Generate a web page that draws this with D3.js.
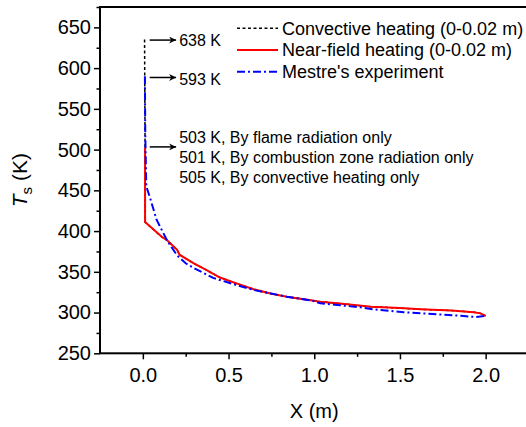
<!DOCTYPE html>
<html>
<head>
<meta charset="utf-8">
<script src="https://cdn.jsdelivr.net/npm/d3@7"></script>
<style>
  body { margin: 0; background: #fff; }
  svg { display: block; font-family: "Liberation Sans", Arial, sans-serif; }
</style>
</head>
<body>
<script>
// near-field heating (red)
var nearX = [0.013, 0.013, 0.11, 0.14, 0.2, 0.214, 0.3, 0.364, 0.45, 0.55, 0.646, 0.75, 0.84, 0.95, 1.035, 1.15, 1.33, 1.5, 1.62, 1.8, 1.93, 1.97, 2.0];
var nearY = [503, 411, 393, 389, 377, 371, 360, 353, 343, 335.5, 328.6, 323, 319.5, 316, 313.4, 311, 307.2, 305.5, 304, 302.5, 300.5, 299, 296];
// convective heating (black dashed), same as red below the peak
var convX = [0.01, 0.013].concat(nearX.slice(1));
var convY = [635, 503].concat(nearY.slice(1));
// Mestre's experiment (blue dash-dot)
var mesX = [0.012, 0.014, 0.02, 0.043, 0.08, 0.14, 0.2, 0.25, 0.3, 0.41, 0.53, 0.646, 0.84, 0.996, 1.035, 1.133, 1.27, 1.346, 1.521, 1.716, 1.872, 1.945, 2.0];
var mesY = [590, 520, 455, 440, 414, 389, 370, 360.5, 354.4, 342.5, 334.7, 327.7, 319.5, 314.2, 311.4, 309.3, 306.5, 304, 300.4, 297.9, 295.8, 294.4, 296];

var xTicks = [0.0, 0.5, 1.0, 1.5, 2.0];
var xMinor = [0.25, 0.75, 1.25, 1.75, 2.25];
var yTicks = [250, 300, 350, 400, 450, 500, 550, 600, 650];
var yMinor = [275, 325, 375, 425, 475, 525, 575, 625, 675];

var legendNames = ["Convective heating (0-0.02 m)", "Near-field heating (0-0.02 m)", "Mestre's experiment"];

// arrow annotations: level of the arrow and text lines next to it
var arrowY = [634.4, 588.5, 503.3];
var arrowX0 = 0.04, arrowX1 = 0.2;
var noteText = ["638 K", "593 K", "503 K, By flame radiation only",
  "501 K, By combustion zone radiation only", "505 K, By convective heating only"];
var noteY = [634.4, 586, 515, 490.5, 466];

var width = 526, height = 427;
var svg = d3.select("body").append("svg")
    .attr("width", width)
    .attr("height", height);

var x = d3.scaleLinear().domain([-0.25, 2.25]).range([100, 528.5]);
var y = d3.scaleLinear().domain([250, 675]).range([353.3, 7]);

// frame
svg.append("rect")
    .attr("x", x(-0.25)).attr("y", y(675))
    .attr("width", x(2.25) - x(-0.25)).attr("height", y(250) - y(675))
    .attr("fill", "none").attr("stroke", "#000").attr("stroke-width", 2);

// axes
var xAxis = svg.append("g")
    .attr("transform", "translate(0," + y(250) + ")")
    .call(d3.axisBottom(x).tickValues(xTicks).tickFormat(d3.format(".1f")).tickSize(6).tickSizeOuter(0));
svg.append("g")
    .attr("transform", "translate(0," + y(250) + ")")
    .call(d3.axisBottom(x).tickValues(xMinor).tickFormat("").tickSize(3.5).tickSizeOuter(0));
var yAxis = svg.append("g")
    .attr("transform", "translate(" + x(-0.25) + ",0)")
    .call(d3.axisLeft(y).tickValues(yTicks).tickSize(6).tickSizeOuter(0));
svg.append("g")
    .attr("transform", "translate(" + x(-0.25) + ",0)")
    .call(d3.axisLeft(y).tickValues(yMinor).tickFormat("").tickSize(3.5).tickSizeOuter(0));

svg.selectAll(".domain").remove();
svg.selectAll(".tick line").attr("stroke", "#000").attr("stroke-width", 1.5);
xAxis.selectAll("text").attr("font-size", 20).attr("fill", "#000").attr("dy", "1.0em");
yAxis.selectAll("text").attr("font-size", 20).attr("fill", "#000").attr("x", -9);

// axis titles
svg.append("text")
    .attr("x", x(1.0)).attr("y", 418)
    .attr("text-anchor", "middle").attr("font-size", 20)
    .text("X (m)");
var yt = svg.append("text")
    .attr("transform", "translate(27," + (y(250) + y(675)) / 2 + ") rotate(-90)")
    .attr("text-anchor", "middle").attr("font-size", 21);
yt.append("tspan").attr("font-style", "italic").text("T");
yt.append("tspan").attr("font-size", 15).attr("dy", 5).text("s");
yt.append("tspan").attr("dy", -5).text(" (K)");

// series
function pts(xs, ys) { return xs.map(function(v, i) { return [v, ys[i]]; }); }
var line = d3.line().x(function(d) { return x(d[0]); }).y(function(d) { return y(d[1]); });

var series = [
  { data: pts(convX, convY), color: "#000", dash: "3,2.5", w: 1.5 },
  { data: pts(nearX, nearY), color: "#ff0000", dash: null, w: 2 },
  { data: pts(mesX, mesY), color: "#0000ff", dash: "8,3,2,3", w: 2 }
];

svg.selectAll(".series")
    .data(series)
    .enter().append("path")
    .attr("class", "series")
    .attr("d", function(d) { return line(d.data); })
    .attr("fill", "none")
    .attr("stroke", function(d) { return d.color; })
    .attr("stroke-width", function(d) { return d.w; })
    .attr("stroke-dasharray", function(d) { return d.dash; });

// legend
var leg = svg.selectAll(".leg")
    .data(series)
    .enter().append("g")
    .attr("class", "leg")
    .attr("transform", function(d, i) { return "translate(237," + (28.3 + i * 21.7) + ")"; });
leg.append("line")
    .attr("x1", 0).attr("x2", 41)
    .attr("stroke", function(d) { return d.color; })
    .attr("stroke-width", function(d) { return d.w; })
    .attr("stroke-dasharray", function(d) { return d.dash; });
leg.append("text")
    .attr("x", 45).attr("dy", "0.35em")
    .attr("font-size", 18)
    .text(function(d, i) { return legendNames[i]; });

// arrows
svg.append("defs").append("marker")
    .attr("id", "ah")
    .attr("viewBox", "0 0 10 10")
    .attr("refX", 10).attr("refY", 5)
    .attr("markerWidth", 12).attr("markerHeight", 7)
    .attr("markerUnits", "userSpaceOnUse")
    .attr("orient", "auto")
    .append("path").attr("d", "M0,0 L10,5 L0,10 L3,5 Z").attr("fill", "#000");

svg.selectAll(".arrow")
    .data(arrowY)
    .enter().append("line")
    .attr("x1", x(arrowX0)).attr("x2", x(arrowX1) - 1)
    .attr("y1", function(d) { return y(d); })
    .attr("y2", function(d) { return y(d); })
    .attr("stroke", "#000").attr("stroke-width", 1.5)
    .attr("marker-end", "url(#ah)");

svg.selectAll(".note")
    .data(noteText)
    .enter().append("text")
    .attr("x", x(arrowX1) + 2)
    .attr("y", function(d, i) { return y(noteY[i]); })
    .attr("dy", "0.35em")
    .attr("font-size", 16)
    .text(function(d) { return d; });
</script>
</body>
</html>
